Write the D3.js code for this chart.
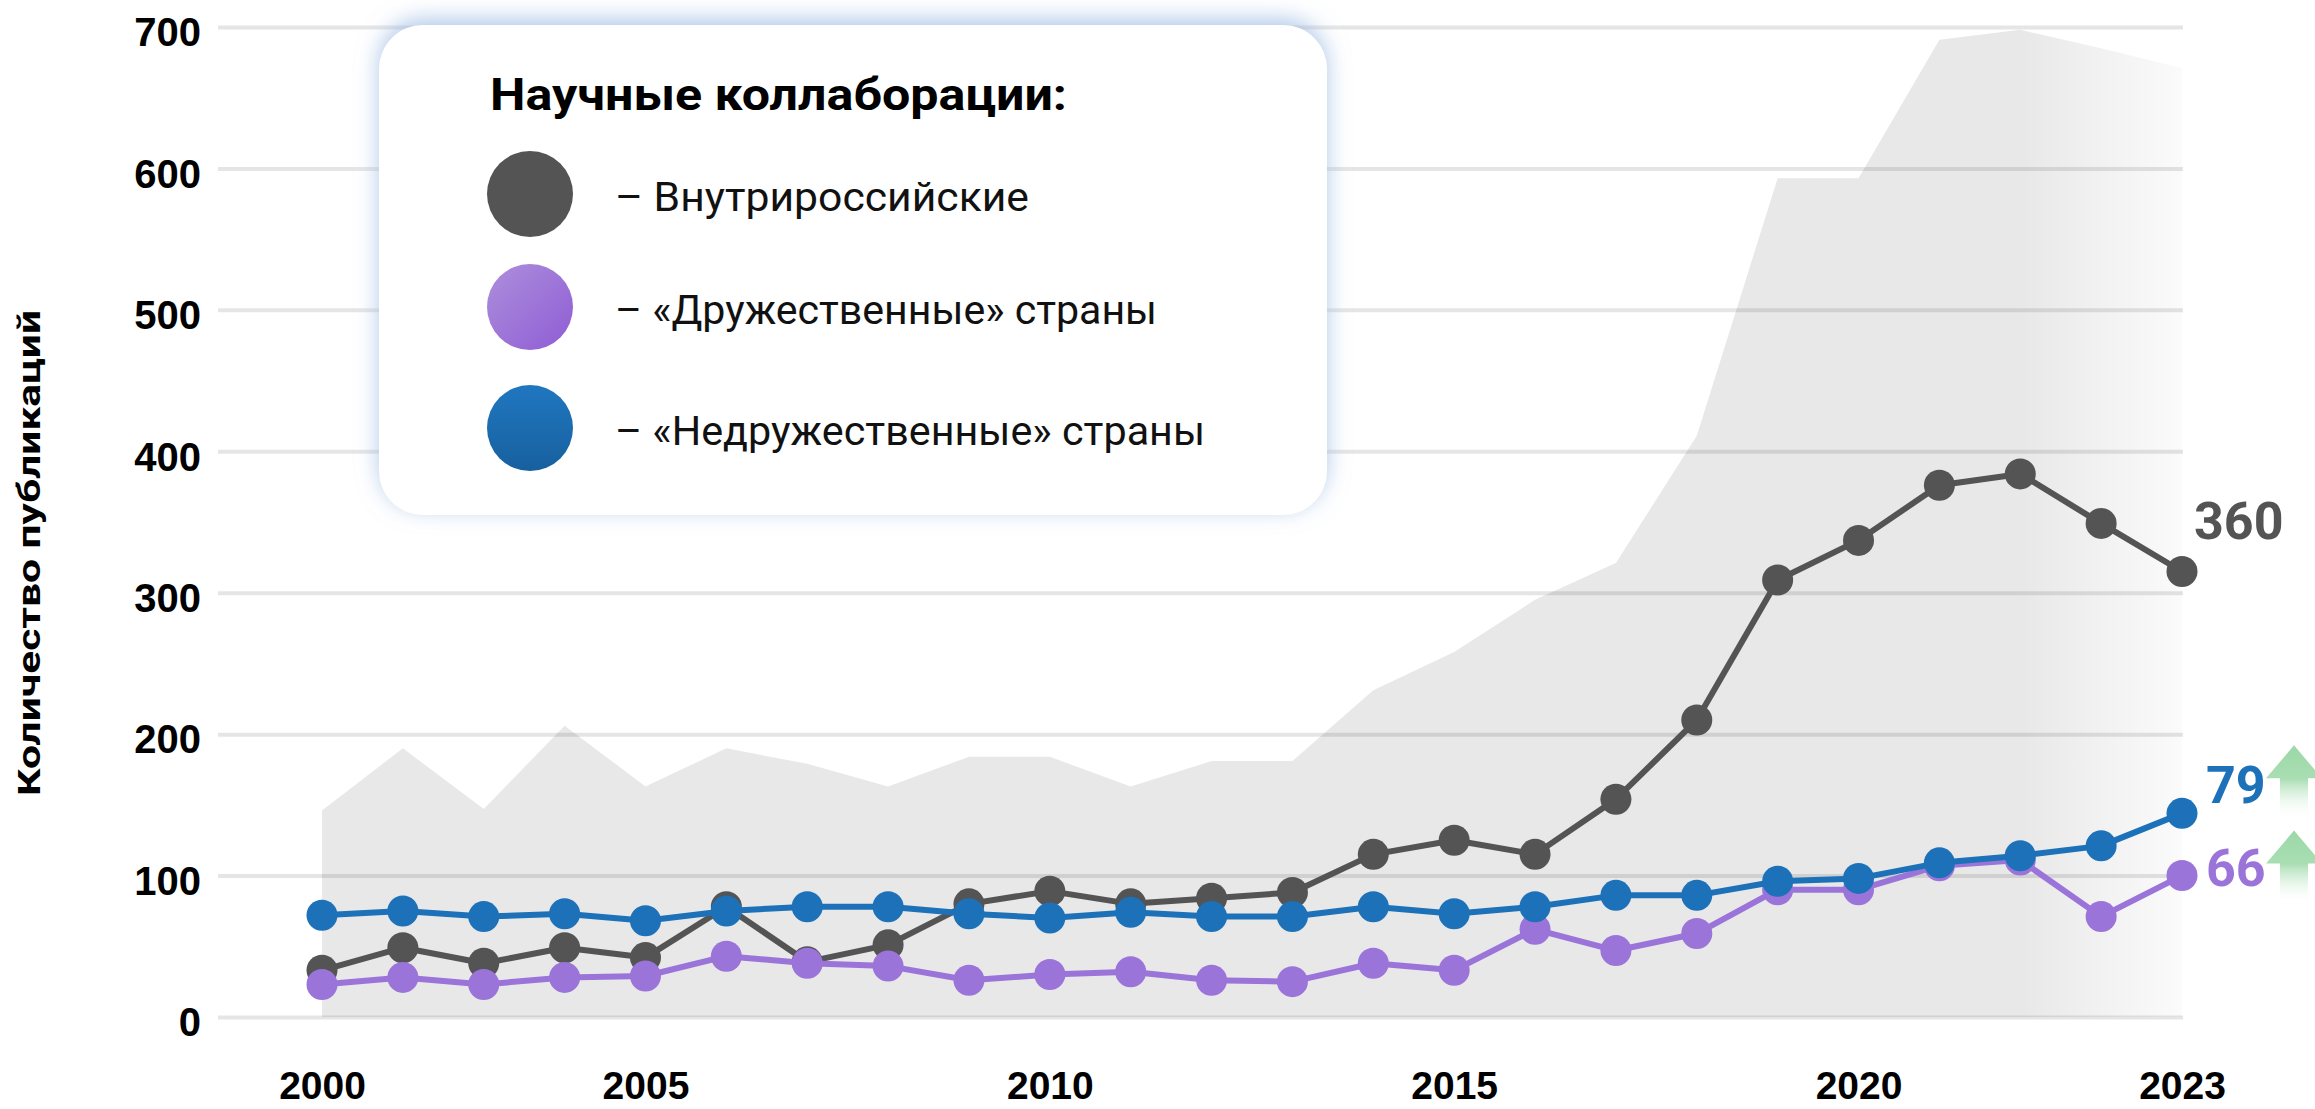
<!DOCTYPE html>
<html lang="ru">
<head>
<meta charset="UTF-8">
<title>Научные коллаборации</title>
<script src="https://cdn.jsdelivr.net/npm/d3@7"></script>
<style>
	body { margin: 0; background: #fff; }
	svg { display: block; font-family: Roboto, "Noto Sans", sans-serif; }
</style>
</head>
<body>
<svg id="chart" width="2315" height="1109"></svg>
<script>
// data
var years = [2000, 2001, 2002, 2003, 2004, 2005, 2006, 2007, 2008, 2009, 2010, 2011,
	2012, 2013, 2014, 2015, 2016, 2017, 2018, 2019, 2020, 2021, 2022, 2023];
var total = [146, 190, 147, 206, 163, 190, 179, 163, 184, 184, 163, 181,
	181, 231, 258, 295, 321, 411, 593, 593, 691, 698, 685, 671];
var domestic = [33, 49, 38, 49, 42, 78, 39, 51, 80, 89, 80, 84,
	88, 115, 125, 115, 154, 210, 309, 337, 376, 384, 349, 315];
var friendly = [23, 28, 23, 28, 29, 43, 38, 36, 26, 30, 32, 26,
	25, 38, 33, 62, 47, 59, 90, 90, 107, 111, 71, 100];
var unfriendly = [72, 75, 71, 73, 68, 75, 78, 78, 73, 70, 74, 71,
	71, 78, 73, 78, 86, 86, 96, 98, 109, 114, 121, 144];
var tickIdx = [0, 4, 9, 14, 19, 23];
var tickLabels = ["2000", "2005", "2010", "2015", "2020", "2023"];
var yTicks = [0, 100, 200, 300, 400, 500, 600, 700];
var yTitle = "Количество публикаций";
var legendTitle = "Научные коллаборации:";
var legendLabels = ["– Внутрироссийские", "– «Дружественные» страны", "– «Недружественные» страны"];
var endLabels = ["360", "79", "66"];

var svg = d3.select("#chart");
var defs = svg.append("defs");

var x = d3.scaleLinear().domain([0, years.length - 1]).range([322, 2182]);
var y = d3.scaleLinear().domain([0, 700]).range([1017, 27]);

// gradients
var fade = defs.append("linearGradient").attr("id", "areaFade")
	.attr("gradientUnits", "userSpaceOnUse")
	.attr("x1", x(21)).attr("x2", x(23) + 35).attr("y1", 0).attr("y2", 0);
fade.append("stop").attr("offset", 0).attr("stop-color", "#e8e8e8");
fade.append("stop").attr("offset", 1).attr("stop-color", "#ffffff");

var pg = defs.append("linearGradient").attr("id", "purpleGrad")
	.attr("x1", 0).attr("y1", 0).attr("x2", 1).attr("y2", 1);
pg.append("stop").attr("offset", 0).attr("stop-color", "#ad8fdc");
pg.append("stop").attr("offset", 1).attr("stop-color", "#8f5cd4");

var bg = defs.append("linearGradient").attr("id", "blueGrad")
	.attr("x1", 0).attr("y1", 0).attr("x2", 0).attr("y2", 1);
bg.append("stop").attr("offset", 0).attr("stop-color", "#2077c0");
bg.append("stop").attr("offset", 1).attr("stop-color", "#17609f");

var ag = defs.append("linearGradient").attr("id", "arrowGrad")
	.attr("x1", 0).attr("y1", 0).attr("x2", 0).attr("y2", 1);
ag.append("stop").attr("offset", 0).attr("stop-color", "#9bd8a7");
ag.append("stop").attr("offset", 0.45).attr("stop-color", "#a9deb3");
ag.append("stop").attr("offset", 1).attr("stop-color", "#ffffff").attr("stop-opacity", 0);

var glow = defs.append("filter").attr("id", "glow")
	.attr("x", "-10%").attr("y", "-20%").attr("width", "120%").attr("height", "140%");
glow.append("feDropShadow").attr("dx", 0).attr("dy", -6)
	.attr("stdDeviation", 11).attr("flood-color", "#9dbbe3").attr("flood-opacity", 0.8);

// grey background area
var area = d3.area()
	.x(function(d, i) { return x(i); })
	.y0(y(0))
	.y1(function(d) { return y(d); });

svg.append("path")
	.datum(total)
	.attr("d", area)
	.attr("fill", "url(#areaFade)");

// grid + y labels
var yAxis = svg.append("g")
	.attr("transform", "translate(218,0)")
	.call(d3.axisLeft(y).tickValues(yTicks).tickSize(-(2183 - 218)).tickPadding(17));
yAxis.select(".domain").remove();
yAxis.selectAll(".tick line")
	.attr("stroke", "rgba(0,0,0,0.1)")
	.attr("stroke-width", 4);
yAxis.selectAll(".tick text")
	.attr("dy", "0.47em")
	.style("font-size", "40px")
	.style("font-weight", 700)
	.attr("fill", "#000");

// x labels
var xAxis = svg.append("g")
	.attr("transform", "translate(0," + y(0) + ")")
	.call(d3.axisBottom(x).tickValues(tickIdx)
		.tickFormat(function(d, i) { return tickLabels[i]; }).tickSize(0));
xAxis.select(".domain").remove();
xAxis.selectAll(".tick text")
	.attr("y", 82).attr("dy", 0)
	.style("font-size", "39px")
	.style("font-weight", 700)
	.attr("fill", "#000");

// y title
svg.append("text")
	.attr("transform", "translate(40,553) rotate(-90)")
	.attr("text-anchor", "middle")
	.attr("textLength", 486)
	.attr("lengthAdjust", "spacingAndGlyphs")
	.style("font-size", "32px")
	.style("font-weight", 700)
	.attr("fill", "#000")
	.text(yTitle);

// series, bottom to top
var series = [
	{ values: domestic, color: "#545454" },
	{ values: friendly, color: "#9b74da" },
	{ values: unfriendly, color: "#1d71b8" }
];

var line = d3.line()
	.x(function(d, i) { return x(i); })
	.y(function(d) { return y(d); });

series.forEach(function(s) {
	var g = svg.append("g");
	g.append("path")
		.datum(s.values)
		.attr("d", line)
		.attr("fill", "none")
		.attr("stroke", s.color)
		.attr("stroke-width", 6)
		.attr("stroke-linejoin", "round");
	g.selectAll("circle")
		.data(s.values)
		.enter()
		.append("circle")
		.attr("cx", function(d, i) { return x(i); })
		.attr("cy", function(d) { return y(d); })
		.attr("r", 15.5)
		.attr("fill", s.color);
});

// end labels
var last = years.length - 1;
var endPos = [
	{ dx: 12, dy: -33, color: "#545454", v: domestic[last] },
	{ dx: 24, dy: -10, color: "#1d71b8", v: unfriendly[last] },
	{ dx: 24, dy: 10, color: "#9b74da", v: friendly[last] }
];
endPos.forEach(function(p, i) {
	svg.append("text")
		.attr("x", x(last) + p.dx)
		.attr("y", y(p.v) + p.dy)
		.style("font-size", "52px")
		.style("font-weight", 700)
		.attr("fill", p.color)
		.text(endLabels[i]);
});

// green arrows next to the two country labels
function arrow(cx, tipY) {
	var p = d3.path();
	p.moveTo(cx, tipY);
	p.lineTo(cx + 28, tipY + 33);
	p.lineTo(cx + 14, tipY + 33);
	p.lineTo(cx + 14, tipY + 74);
	p.lineTo(cx - 14, tipY + 74);
	p.lineTo(cx - 14, tipY + 33);
	p.lineTo(cx - 28, tipY + 33);
	p.closePath();
	svg.append("path").attr("d", p.toString()).attr("fill", "url(#arrowGrad)");
}
arrow(2294, y(unfriendly[last]) - 68);
arrow(2294, y(friendly[last]) - 45);

// legend
var legend = svg.append("g");
legend.append("rect")
	.attr("x", 379).attr("y", 25)
	.attr("width", 948).attr("height", 490)
	.attr("rx", 44)
	.attr("fill", "#fff")
	.attr("filter", "url(#glow)");
legend.append("text")
	.attr("x", 490).attr("y", 110)
	.attr("textLength", 577)
	.attr("lengthAdjust", "spacingAndGlyphs")
	.style("font-size", "45px")
	.style("font-weight", 700)
	.attr("fill", "#000")
	.text(legendTitle);

var legendFill = ["#545454", "url(#purpleGrad)", "url(#blueGrad)"];
var legendY = [194, 307, 428];
var legendW = [414, 542, 590];
legendLabels.forEach(function(t, i) {
	legend.append("circle")
		.attr("cx", 530).attr("cy", legendY[i])
		.attr("r", 43)
		.attr("fill", legendFill[i]);
	legend.append("text")
		.attr("x", 615).attr("y", legendY[i] + 17)
		.attr("textLength", legendW[i])
		.attr("lengthAdjust", "spacingAndGlyphs")
		.style("font-size", "40px")
		.style("font-weight", 400)
		.attr("fill", "#111")
		.text(t);
});
</script>
</body>
</html>
